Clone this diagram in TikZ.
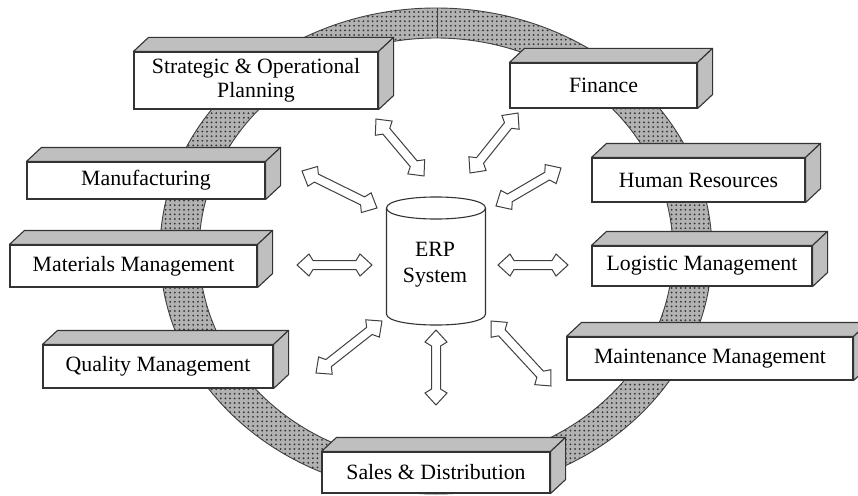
\documentclass[tikz,border=0pt]{standalone}
\usepackage{fontspec}
\setmainfont{Liberation Serif}
\usetikzlibrary{calc,patterns.meta}
\tikzset{
  box/.style={draw=black!80, line width=1.1pt, fill=white, inner sep=0pt, align=center,
    font=\fontsize{21.8}{24}\selectfont},
  face/.style={draw=black!80, line width=1.1pt, fill=black!25, line join=round},
  hollow/.style={draw=black!75, line width=1pt, fill=white, line join=miter},
  ringfill/.style={fill=black!30, even odd rule},
  ringdots/.style={pattern={Dots[distance=4.6pt, radius=1pt]}, pattern color=black!80, even odd rule},
  ringline/.style={draw=black!75, line width=0.9pt},
  cyl/.style={draw=black!80, line width=1.1pt, fill=white},
  cyltext/.style={inner sep=0pt, align=center, font=\fontsize{21.8}{26}\selectfont},
}
\newcommand\boxfaces[1]{%
  \draw[face] (#1.north west) -- ++(15,-14) -- ($(#1.north east)+(15,-14)$) -- (#1.north east) -- cycle;
  \draw[face] (#1.north east) -- ++(15,-14) -- ($(#1.south east)+(15,-14)$) -- (#1.south east) -- cycle;
}
\newcommand\hollowarrow[2]{%
  \draw[hollow] let \p1=(#1), \p2=(#2), \n1={atan2(\y2-\y1,\x2-\x1)}, \n2={veclen(\x2-\x1,\y2-\y1)} in
    ([shift={(\p1)},rotate=\n1]0pt,0pt)
    -- ([shift={(\p1)},rotate=\n1]12pt,11pt)
    -- ([shift={(\p1)},rotate=\n1]16pt,4.5pt)
    -- ([shift={(\p1)},rotate=\n1]{\n2-16pt},4.5pt)
    -- ([shift={(\p1)},rotate=\n1]{\n2-12pt},11pt)
    -- ([shift={(\p1)},rotate=\n1]{\n2+0pt},0pt)
    -- ([shift={(\p1)},rotate=\n1]{\n2-12pt},-11pt)
    -- ([shift={(\p1)},rotate=\n1]{\n2-16pt},-4.5pt)
    -- ([shift={(\p1)},rotate=\n1]16pt,-4.5pt)
    -- ([shift={(\p1)},rotate=\n1]12pt,-11pt)
    -- cycle;
}
\begin{document}
\begin{tikzpicture}[x=1pt, y=-1pt]
\useasboundingbox[fill=white] (0,0) rectangle (858,495);

% ring
\fill[ringfill] (436,251) ellipse[x radius=276, y radius=243] (436,251) ellipse[x radius=237, y radius=213];
\fill[ringdots] (436,251) ellipse[x radius=276, y radius=243] (436,251) ellipse[x radius=237, y radius=213];
\draw[ringline] (436,251) ellipse[x radius=276, y radius=243];
\draw[ringline] (436,251) ellipse[x radius=237, y radius=213];
\coordinate (seamtop) at (437,8);
\coordinate (seambot) at (437,38);
\draw[ringline] (seamtop) -- (seambot);

% boxes
\node[box, minimum width=244pt, minimum height=57pt] (strat) at (256,80.5) {Strategic \& Operational\\Planning};
\boxfaces{strat}
\node[box, minimum width=187pt, minimum height=45pt] (fin) at (603.5,85.5) {Finance};
\boxfaces{fin}
\node[box, minimum width=238pt, minimum height=37pt] (manu) at (146,180.5) {Manufacturing};
\boxfaces{manu}
\node[box, minimum width=247pt, minimum height=42pt] (mat) at (133.5,266) {Materials Management};
\boxfaces{mat}
\node[box, minimum width=230pt, minimum height=43pt] (qual) at (158,366.5) {Quality Management};
\boxfaces{qual}
\node[box, minimum width=213pt, minimum height=44pt] (hr) at (698.5,180) {Human Resources};
\boxfaces{hr}
\node[box, minimum width=220pt, minimum height=40pt] (log) at (702,266) {Logistic Management};
\boxfaces{log}
\node[box, minimum width=286pt, minimum height=43pt] (maint) at (710,358.5) {Maintenance Management};
\boxfaces{maint}
\node[box, minimum width=228pt, minimum height=41pt] (sales) at (436,472.5) {Sales \& Distribution};
\boxfaces{sales}

% ERP cylinder
\draw[cyl] (386.5,208) -- (386.5,314) .. controls (386.5,328.7) and (485.5,328.7) .. (485.5,314)
  -- (485.5,208) .. controls (485.5,193.3) and (386.5,193.3) .. (386.5,208) -- cycle;
\draw[cyl, fill=none] (386.5,208) .. controls (386.5,222.7) and (485.5,222.7) .. (485.5,208);
\node[cyltext] (erp) at (435,265) {ERP\\System};

% arrow end points
\coordinate (a1s) at (376,119);  \coordinate (a1e) at (424,176);
\coordinate (a2s) at (518,113);  \coordinate (a2e) at (470,173);
\coordinate (a3s) at (302,171);  \coordinate (a3e) at (377,208);
\coordinate (a4s) at (561,168);  \coordinate (a4e) at (496,206);
\coordinate (a5s) at (297,265);  \coordinate (a5e) at (372,265);
\coordinate (a6s) at (498,265);  \coordinate (a6e) at (568,265);
\coordinate (a7s) at (316,373);  \coordinate (a7e) at (382,321);
\coordinate (a8s) at (491,321);  \coordinate (a8e) at (551,386);
\coordinate (a9s) at (436,330);  \coordinate (a9e) at (436,405);

\hollowarrow{a1s}{a1e}
\hollowarrow{a2s}{a2e}
\hollowarrow{a3s}{a3e}
\hollowarrow{a4s}{a4e}
\hollowarrow{a5s}{a5e}
\hollowarrow{a6s}{a6e}
\hollowarrow{a7s}{a7e}
\hollowarrow{a8s}{a8e}
\hollowarrow{a9s}{a9e}
\end{tikzpicture}
\end{document}
